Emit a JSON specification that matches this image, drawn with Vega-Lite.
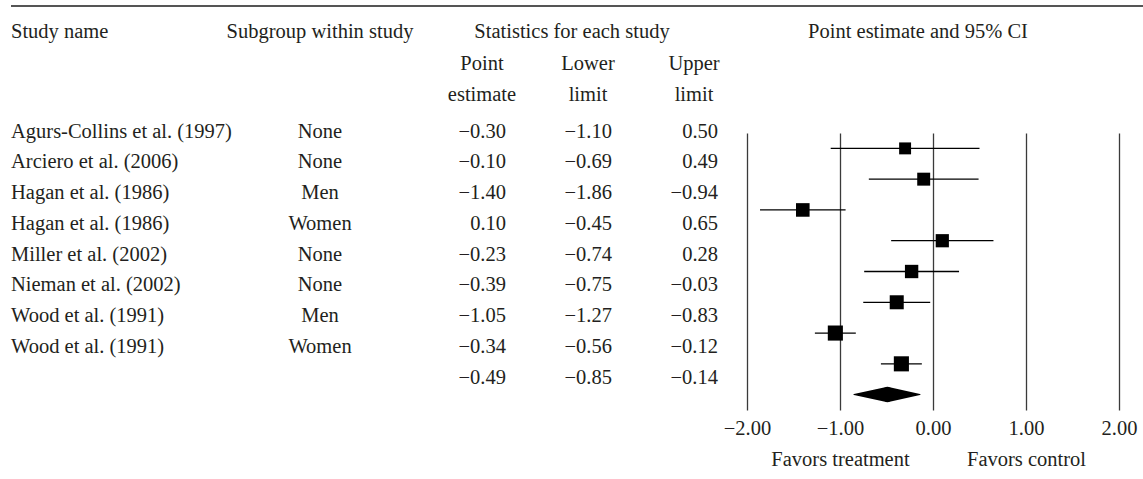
{
  "$schema": "https://vega.github.io/schema/vega-lite/v6.json",
  "padding": {"left": 11, "top": 5, "right": 0, "bottom": 5},
  "background": "white",
  "datasets": {
    "studies": [
      {"row": 0, "study": "Agurs-Collins et al. (1997)", "subgroup": "None", "est": -0.30, "lower": -1.10, "upper": 0.50, "weight": 9.5},
      {"row": 1, "study": "Arciero et al. (2006)", "subgroup": "None", "est": -0.10, "lower": -0.69, "upper": 0.49, "weight": 11.2},
      {"row": 2, "study": "Hagan et al. (1986)", "subgroup": "Men", "est": -1.40, "lower": -1.86, "upper": -0.94, "weight": 12.3},
      {"row": 3, "study": "Hagan et al. (1986)", "subgroup": "Women", "est": 0.10, "lower": -0.45, "upper": 0.65, "weight": 11.6},
      {"row": 4, "study": "Miller et al. (2002)", "subgroup": "None", "est": -0.23, "lower": -0.74, "upper": 0.28, "weight": 11.9},
      {"row": 5, "study": "Nieman et al. (2002)", "subgroup": "None", "est": -0.39, "lower": -0.75, "upper": -0.03, "weight": 13.1},
      {"row": 6, "study": "Wood et al. (1991)", "subgroup": "Men", "est": -1.05, "lower": -1.27, "upper": -0.83, "weight": 15.2},
      {"row": 7, "study": "Wood et al. (1991)", "subgroup": "Women", "est": -0.34, "lower": -0.56, "upper": -0.12, "weight": 15.2},
      {"row": 8, "study": "", "subgroup": "", "est": -0.49, "lower": -0.85, "upper": -0.14, "weight": 100}
    ]
  },
  "config": {
    "view": {"stroke": null},
    "font": "Liberation Serif",
    "text": {"font": "Liberation Serif", "fontSize": 20.5, "color": "#231f20"},
    "title": {"font": "Liberation Serif", "fontSize": 20.5, "fontWeight": "normal", "color": "#231f20", "frame": "group"},
    "axis": {"labelFont": "Liberation Serif", "labelFontSize": 20.5, "labelColor": "#231f20", "titleFont": "Liberation Serif"}
  },
  "spacing": 126,
  "bounds": "flush",
  "vconcat": [
    {
      "width": 1132,
      "height": 2,
      "view": {"fill": "#555555", "stroke": null},
      "data": {"values": []},
      "mark": "rule",
      "encoding": {}
    },
    {
      "spacing": 0,
      "bounds": "flush",
      "hconcat": [
        {
          "width": 200,
          "height": 246,
          "data": {"name": "studies"},
          "title": {"text": "Study name", "anchor": "start", "offset": 79},
          "mark": {"type": "text", "align": "left", "baseline": "middle", "dy": -1.5},
          "encoding": {
            "x": {"value": 0},
            "y": {"field": "row", "type": "ordinal", "scale": {"type": "point", "padding": 0}, "axis": null},
            "text": {"field": "study"}
          }
        },
        {
          "width": 218,
          "height": 246,
          "data": {"name": "studies"},
          "title": {"text": "Subgroup within study", "anchor": "middle", "offset": 79},
          "mark": {"type": "text", "align": "center", "baseline": "middle", "dy": -1.5},
          "encoding": {
            "y": {"field": "row", "type": "ordinal", "scale": {"type": "point", "padding": 0}, "axis": null},
            "text": {"field": "subgroup"}
          }
        },
        {
          "width": 318,
          "height": 246,
          "data": {"name": "studies"},
          "transform": [{"fold": ["est", "lower", "upper"], "as": ["stat", "value"]}],
          "title": {"text": "Statistics for each study", "anchor": "middle", "offset": 11, "dx": -16},
          "mark": {"type": "text", "align": "right", "baseline": "middle", "dx": 24, "dy": -1.5},
          "encoding": {
            "x": {
              "field": "stat", "type": "nominal", "sort": ["est", "lower", "upper"],
              "scale": {"type": "band", "paddingInner": 0, "paddingOuter": 0},
              "axis": {
                "orient": "top", "title": null, "domain": false, "ticks": false, "labelAngle": 0,
                "labelPadding": 60, "labelLineHeight": 31, "labelOverlap": false,
                "labelExpr": "datum.value == 'est' ? ['Point', 'estimate'] : datum.value == 'lower' ? ['Lower', 'limit'] : ['Upper', 'limit']"
              }
            },
            "y": {"field": "row", "type": "ordinal", "scale": {"type": "point", "padding": 0}, "axis": null},
            "text": {"field": "value", "type": "quantitative", "format": ".2f"}
          }
        },
        {
          "width": 372,
          "height": 277,
          "data": {"name": "studies"},
          "title": {"text": "Point estimate and 95% CI", "anchor": "middle", "offset": 91, "dx": -15},
          "resolve": {"axis": {"x": "independent"}, "scale": {"size": "independent"}},
          "layer": [
            {
              "transform": [{"filter": "datum.row < 8"}],
              "mark": {"type": "rule", "color": "black", "strokeWidth": 1.3},
              "encoding": {
                "x": {
                  "field": "lower", "type": "quantitative",
                  "scale": {"domain": [-2, 2], "nice": false, "zero": false},
                  "axis": {
                    "orient": "bottom", "title": null, "values": [-2, -1, 0, 1, 2], "format": ".2f",
                    "grid": true, "gridColor": "#3a3a3a", "gridWidth": 1.3, "domain": false, "ticks": false,
                    "labelPadding": 8, "labelFlush": false
                  }
                },
                "x2": {"field": "upper"},
                "y": {"field": "row", "type": "ordinal", "scale": {"type": "point", "padding": 0.5}, "axis": null}
              }
            },
            {
              "transform": [{"filter": "datum.row < 8"}],
              "mark": {"type": "point", "shape": "square", "filled": true, "color": "black", "opacity": 1},
              "encoding": {
                "x": {"field": "est", "type": "quantitative", "scale": {"domain": [-2, 2], "nice": false, "zero": false}, "axis": null},
                "y": {"field": "row", "type": "ordinal", "scale": {"type": "point", "padding": 0.5}, "axis": null},
                "size": {"field": "weight", "type": "quantitative", "scale": {"domain": [0, 16], "range": [0, 240]}, "legend": null}
              }
            },
            {
              "transform": [
                {"filter": "datum.row == 8"},
                {"fold": ["lower", "est", "upper"], "as": ["vertex", "value"]}
              ],
              "mark": {"type": "trail", "color": "black"},
              "encoding": {
                "x": {
                  "field": "value", "type": "quantitative",
                  "scale": {"domain": [-2, 2], "nice": false, "zero": false},
                  "axis": {
                    "orient": "bottom", "title": null, "values": [-1, 1], "grid": false, "domain": false, "ticks": false,
                    "labelPadding": 8, "offset": 31, "labelFlush": false,
                    "labelExpr": "datum.value < 0 ? 'Favors treatment' : 'Favors control'"
                  }
                },
                "y": {"field": "row", "type": "ordinal", "scale": {"type": "point", "padding": 0.5}, "axis": null},
                "size": {"field": "vertex", "type": "ordinal", "scale": {"type": "ordinal", "domain": ["lower", "est", "upper"], "range": [0, 15.5, 0]}, "legend": null}
              }
            }
          ]
        }
      ]
    }
  ]
}
